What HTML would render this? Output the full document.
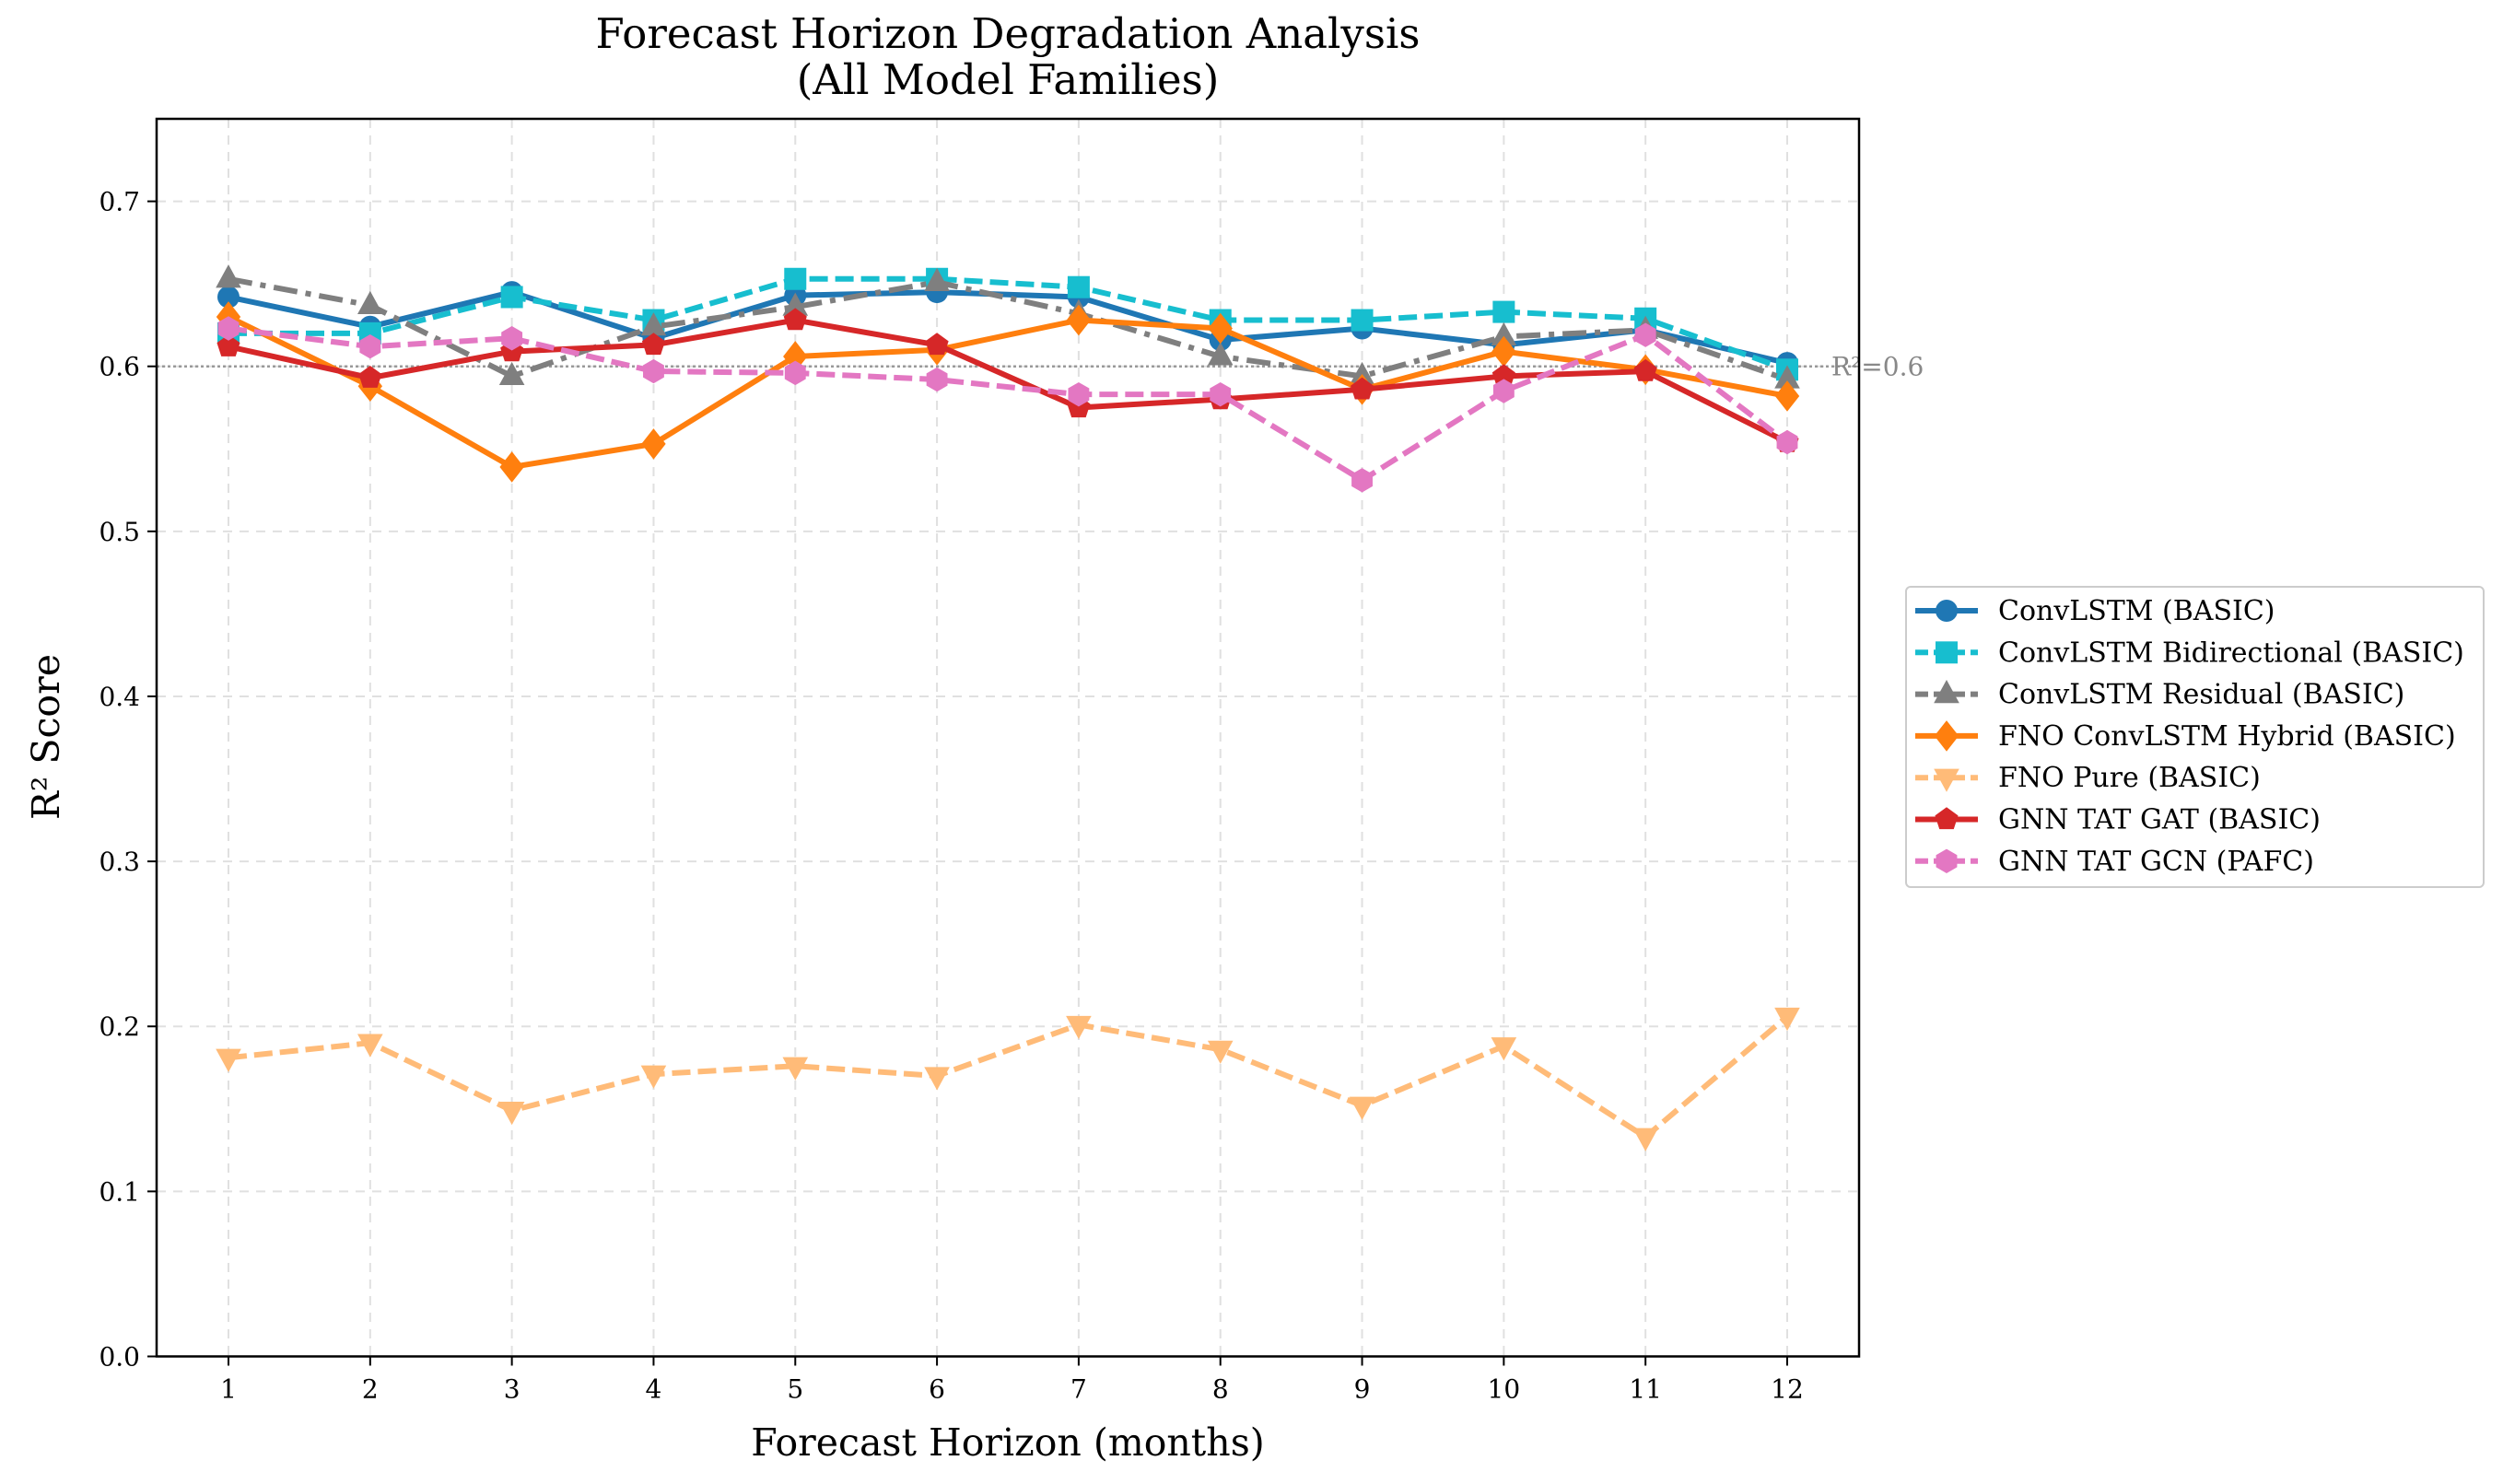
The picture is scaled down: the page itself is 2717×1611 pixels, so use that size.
<!DOCTYPE html>
<html><head><meta charset="utf-8"><style>
html,body{margin:0;padding:0;background:#fff;}
svg{display:block;font-family:"DejaVu Serif","Liberation Serif",serif;}
</style></head><body>
<svg id="chart" width="2717" height="1611" viewBox="0 0 2717 1611" xmlns="http://www.w3.org/2000/svg">
<rect width="2717" height="1611" fill="#fff"/>
<text x="1094" y="52" font-size="45" text-anchor="middle">Forecast Horizon Degradation Analysis</text>
<text x="1094" y="102" font-size="45" text-anchor="middle">(All Model Families)</text>
<g id="grid"></g>
<g id="ref"></g>
<g id="series"></g>
<rect x="170" y="129" width="1848" height="1343.5" fill="none" stroke="#000" stroke-width="2.5"/>
<g id="axes"></g>
<text x="1094" y="1580" font-size="41" text-anchor="middle">Forecast Horizon (months)</text>
<text transform="translate(64,800) rotate(-90)" font-size="41" text-anchor="middle">R² Score</text>
<g id="legend"></g>
</svg>
<script>
const horizons = [1,2,3,4,5,6,7,8,9,10,11,12];
const yTicks = [0.0,0.1,0.2,0.3,0.4,0.5,0.6,0.7];
const seriesNames = ["ConvLSTM (BASIC)","ConvLSTM Bidirectional (BASIC)","ConvLSTM Residual (BASIC)","FNO ConvLSTM Hybrid (BASIC)","FNO Pure (BASIC)","GNN TAT GAT (BASIC)","GNN TAT GCN (PAFC)"];
const convlstm = [0.642,0.624,0.645,0.617,0.643,0.645,0.642,0.616,0.623,0.613,0.622,0.602];
const convlstmBidir = [0.620,0.620,0.642,0.628,0.653,0.653,0.648,0.628,0.628,0.633,0.629,0.598];
const convlstmResid = [0.653,0.637,0.594,0.624,0.636,0.651,0.632,0.606,0.594,0.618,0.622,0.592];
const fnoHybrid = [0.630,0.588,0.539,0.553,0.606,0.610,0.628,0.623,0.586,0.609,0.598,0.582];
const fnoPure = [0.181,0.190,0.149,0.171,0.176,0.170,0.201,0.186,0.152,0.188,0.133,0.206];
const gnnGat = [0.612,0.593,0.609,0.613,0.628,0.613,0.575,0.580,0.586,0.594,0.597,0.554];
const gnnGcn = [0.623,0.612,0.617,0.597,0.596,0.592,0.583,0.583,0.531,0.585,0.619,0.554];
const refValue = 0.6;

const NS="http://www.w3.org/2000/svg";
const L=170,R=2018,T=129,B=1472.5;
function xs(h){return 248+(h-1)*(1940-248)/11;}
function ys(v){return B-v*(B-T)/0.75;}
function mk(tag,attrs,parent){const e=document.createElementNS(NS,tag);for(const k in attrs)e.setAttribute(k,attrs[k]);parent.appendChild(e);return e;}

const grid=document.getElementById('grid'),axes=document.getElementById('axes');
horizons.forEach(h=>{
  const g=mk('line',{x1:xs(h),x2:xs(h),y1:T,y2:B,stroke:'#e0e0e0','stroke-width':2,'stroke-dasharray':'10,8'},grid);
  
  
  const t=mk('line',{x1:xs(h),x2:xs(h),y1:B,y2:B+10,stroke:'#000','stroke-width':2},axes);
  
  
  const lb=mk('text',{x:xs(h),y:B+45,'font-size':28,'text-anchor':'middle'},axes);
  lb.textContent=h;
  
  
});
yTicks.forEach(v=>{
  const g=mk('line',{x1:L,x2:R,y1:ys(v),y2:ys(v),stroke:'#e0e0e0','stroke-width':2,'stroke-dasharray':'10,8'},grid);
  
  
  const t=mk('line',{x1:L-10,x2:L,y1:ys(v),y2:ys(v),stroke:'#000','stroke-width':2},axes);
  
  
  const lb=mk('text',{x:L-18,y:ys(v)+10,'font-size':28,'text-anchor':'end'},axes);
  lb.textContent=v.toFixed(1);
  
  
});
const refG=document.getElementById('ref');
const rl=mk('line',{x1:L,x2:R,y1:ys(refValue),y2:ys(refValue),stroke:'#999','stroke-width':2.5,'stroke-dasharray':'3,3'},refG);


const rt=mk('text',{x:1988,y:ys(refValue)+10,'font-size':28,fill:'#888'},refG);
rt.textContent='R²=0.6';



const styles=[
 {d:convlstm,c:'#1f77b4',dash:'',m:'circle'},
 {d:convlstmBidir,c:'#17becf',dash:'20,8',m:'square'},
 {d:convlstmResid,c:'#7f7f7f',dash:'26,9,6,9',m:'tri'},
 {d:fnoHybrid,c:'#ff7f0e',dash:'',m:'diamond'},
 {d:fnoPure,c:'#ffbb78',dash:'20,8',m:'tridown'},
 {d:gnnGat,c:'#d62728',dash:'',m:'pent'},
 {d:gnnGcn,c:'#e377c2',dash:'20,8',m:'hex'}
];
function marker(type,x,y,c,parent,s){
  s=s||12;let e;
  if(type==='circle')e=mk('circle',{cx:x,cy:y,r:s,fill:c},parent);
  else if(type==='square')e=mk('rect',{x:x-s,y:y-s,width:2*s,height:2*s,fill:c},parent);
  else{
    let pts;
    if(type==='tri')pts=[[0,-1.3],[1.15,0.8],[-1.15,0.8]];
    else if(type==='tridown')pts=[[0,1.3],[1.15,-0.8],[-1.15,-0.8]];
    else if(type==='diamond')pts=[[0,-1.4],[1.1,0],[0,1.4],[-1.1,0]];
    else if(type==='pent'){pts=[];for(let i=0;i<5;i++){const a=-Math.PI/2+i*2*Math.PI/5;pts.push([Math.cos(a)*1.1,Math.sin(a)*1.1]);}}
    else {pts=[];for(let i=0;i<6;i++){const a=-Math.PI/2+i*Math.PI/3;pts.push([Math.cos(a)*1.1,Math.sin(a)*1.1]);}}
    e=mk('polygon',{points:pts.map(p=>(x+p[0]*s)+','+(y+p[1]*s)).join(' '),fill:c},parent);
  }
  return e;
}
const sg=document.getElementById('series');
styles.forEach((st,i)=>{
  const g=mk('g',{},sg);
  
  
  const p=mk('polyline',{points:st.d.map((v,j)=>xs(horizons[j])+','+ys(v)).join(' '),fill:'none',stroke:st.c,'stroke-width':6,'stroke-dasharray':st.dash,'stroke-linejoin':'round'},g);
  
  
  st.d.forEach((v,j)=>{
    const m=marker(st.m,xs(horizons[j]),ys(v),st.c,g);
    
    
  });
});
const lg=document.getElementById('legend');
const box=mk('rect',{x:2069,y:637,width:627,height:326,rx:5,fill:'#fff',stroke:'#ccc','stroke-width':2},lg);


styles.forEach((st,i)=>{
  const y=663+i*45.3;
  const g=mk('g',{},lg);
  
  
  mk('line',{x1:2079,x2:2147,y1:y,y2:y,stroke:st.c,'stroke-width':6,'stroke-dasharray':st.dash?'14,6':''},g);
  marker(st.m,2113,y,st.c,g,12);
  const t=mk('text',{x:2169,y:y+10,'font-size':30},g);
  t.textContent=seriesNames[i];
});
</script>
</body></html>
